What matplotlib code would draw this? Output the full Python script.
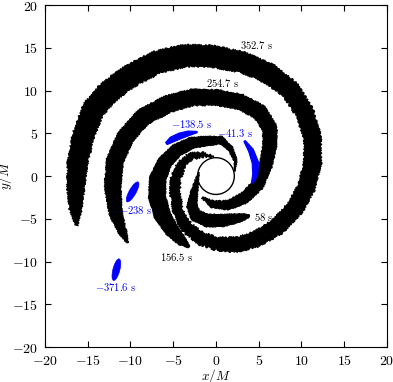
import matplotlib.pyplot as plt
import numpy as np
from matplotlib.patches import Ellipse, Circle, Polygon
from matplotlib.ticker import MultipleLocator, FuncFormatter

plt.rcParams['mathtext.fontset'] = 'cm'
plt.rcParams['font.family'] = 'serif'

# stream snapshots, centre line (x/M, y/M) and thickness, inner end -> tip
arm58_x = [-2.0, -2.3, -2.6, -2.8, -2.4, -1.0, 0.8, 2.4, 3.4, 3.95]
arm58_y = [0.4, -0.8, -2.2, -3.5, -4.6, -5.2, -5.2, -4.95, -4.75, -4.65]
arm58_w = [0.1, 0.5, 0.9, 1.2, 1.4, 1.5, 1.4, 1.1, 0.7, 0.2]

arm156_x = [2.2, 2.3, 1.7, 0.6, -1.0, -2.8, -4.6, -6.0, -6.8, -6.9, -6.3, -5.2, -4.0, -3.1]
arm156_y = [0.6, 1.8, 3.2, 4.2, 4.1, 3.9, 3.0, 1.6, -0.3, -2.4, -4.5, -6.3, -7.6, -8.3]
arm156_w = [0.1, 0.35, 0.6, 0.9, 1.1, 1.3, 1.5, 1.7, 1.9, 2.0, 1.9, 1.6, 1.1, 0.2]

arm254_x = [-1.6, -0.4, 1.4, 3.3, 4.9, 5.8, 6.3, 6.3, 5.1, 2.8, 0.0, -2.8, -5.7,
            -8.5, -10.6, -11.8, -12.1, -11.7, -10.9, -10.3]
arm254_y = [-2.5, -3.3, -3.4, -2.6, -1.0, 1.2, 3.6, 5.6, 7.5, 8.7, 9.2, 9.2, 8.4,
            6.9, 4.6, 1.8, -1.3, -4.5, -6.6, -7.8]
arm254_w = [0.2, 0.8, 1.1, 1.3, 1.4, 1.5, 1.6, 1.7, 1.8, 1.8, 1.8, 1.9, 2.0,
            2.0, 2.0, 2.0, 1.9, 1.5, 0.9, 0.2]

# inner (diffuse) and outer (dense) part of the 352.7 s stream
arm352a_x = [-0.3, -1.6, -3.0, -4.1, -4.7, -4.8, -4.4, -3.4, -1.8, 0.4, 2.6]
arm352a_y = [2.25, 2.5, 2.3, 1.3, -0.3, -2.0, -4.3, -6.0, -7.3, -8.0, -8.0]
arm352a_w = [0.1, 0.5, 0.8, 1.0, 1.1, 1.1, 1.2, 1.3, 1.4, 1.5, 1.6]

arm352b_x = [0.4, 2.6, 4.9, 7.2, 9.2, 10.6, 11.3, 11.3, 10.4, 8.7, 6.2, 3.1, -0.3,
             -3.6, -7.0, -10.2, -12.6, -14.4, -15.5, -16.2, -16.4, -16.4, -16.3]
arm352b_y = [-8.0, -8.0, -7.3, -5.9, -3.8, -1.3, 1.5, 4.5, 7.4, 10.1, 12.0, 13.3, 14.0,
             14.1, 13.3, 11.6, 9.8, 7.7, 4.8, 1.5, -1.5, -3.8, -5.8]
arm352b_w = [1.5, 1.7, 1.8, 1.9, 2.0, 2.0, 2.0, 2.0, 2.1, 2.2, 2.3, 2.4, 2.5,
             2.6, 2.6, 2.6, 2.6, 2.6, 2.5, 2.3, 2.0, 1.5, 0.2]

# star before disruption (blue)
blob138_x = [-5.8, -5.2, -4.2, -3.2, -2.2]
blob138_y = [3.8, 4.25, 4.7, 5.0, 5.15]
blob138_w = [0.3, 0.65, 0.7, 0.55, 0.15]

blob41_x = [3.35, 4.1, 4.6, 4.6, 4.25]
blob41_y = [4.1, 3.0, 1.6, 0.2, -0.8]
blob41_w = [0.2, 0.6, 0.75, 0.6, 0.2]

ell_x = [-11.65, -9.75]
ell_y = [-10.95, -1.85]
ell_len = [2.6, 2.65]
ell_wid = [0.8, 0.8]
ell_ang = [75.4, 60.5]

lab_text = [r'$\mathrm{-371.6\ s}$', r'$\mathrm{-238\ s}$', r'$\mathrm{-138.5\ s}$',
            r'$\mathrm{-41.3\ s}$', r'$\mathrm{352.7\ s}$', r'$\mathrm{254.7\ s}$',
            r'$\mathrm{156.5\ s}$', r'$\mathrm{58\ s}$']
lab_x = [-11.7, -9.4, -2.9, 2.2, 4.7, 0.8, -4.6, 5.6]
lab_y = [-13.0, -4.0, 6.1, 5.0, 15.3, 10.9, -9.5, -4.8]
lab_c = ['b', 'b', 'b', 'b', 'k', 'k', 'k', 'k']

bh_radius = 2.15


def ribbon(x, y, w):
    x = np.asarray(x, float)
    y = np.asarray(y, float)
    w = np.asarray(w, float)
    dx = np.gradient(x)
    dy = np.gradient(y)
    n = np.hypot(dx, dy)
    nx, ny = -dy / n, dx / n
    left = np.column_stack([x + nx * w / 2, y + ny * w / 2])
    right = np.column_stack([x - nx * w / 2, y - ny * w / 2])
    return np.vstack([left, right[::-1]])


fig = plt.figure(figsize=(3.93, 3.82), dpi=100)
ax = fig.add_axes([0.1145, 0.0916, 0.870, 0.895])

for xs, ys, ws, sk in [(arm58_x, arm58_y, arm58_w, 0.4),
                       (arm156_x, arm156_y, arm156_w, 0.4),
                       (arm254_x, arm254_y, arm254_w, 0.6),
                       (arm352a_x, arm352a_y, arm352a_w, 1.2),
                       (arm352b_x, arm352b_y, arm352b_w, 0.9)]:
    p = Polygon(ribbon(xs, ys, ws), closed=True, fc='k', ec='k', lw=0.8)
    p.set_sketch_params(scale=sk, length=1.5, randomness=3)
    ax.add_patch(p)

for xs, ys, ws in [(blob138_x, blob138_y, blob138_w), (blob41_x, blob41_y, blob41_w)]:
    ax.add_patch(Polygon(ribbon(xs, ys, ws), closed=True, fc='b', ec='b', lw=0.8))

for i in range(len(ell_x)):
    ax.add_patch(Ellipse((ell_x[i], ell_y[i]), ell_len[i], ell_wid[i], angle=ell_ang[i],
                         fc='b', ec='b', lw=0.5))

ax.add_patch(Circle((0, 0), bh_radius, fill=False, ec='k', lw=1.0))

for t, x, y, c in zip(lab_text, lab_x, lab_y, lab_c):
    ax.text(x, y, t, color=c, fontsize=7.6, ha='center', va='center')

ax.set_xlim(-20, 20)
ax.set_ylim(-20, 20)
ax.xaxis.set_major_locator(MultipleLocator(5))
ax.yaxis.set_major_locator(MultipleLocator(5))
fmt = FuncFormatter(lambda v, pos: r'$\mathrm{%d}$' % v)
ax.xaxis.set_major_formatter(fmt)
ax.yaxis.set_major_formatter(fmt)
ax.tick_params(direction='in', top=True, right=True, length=4, width=0.8, labelsize=10, pad=5)
ax.set_xlabel(r'$x/M$', fontsize=9.5)
ax.set_ylabel(r'$y/M$', fontsize=9.5)
ax.xaxis.set_label_coords(0.5, -0.058)
ax.yaxis.set_label_coords(-0.09, 0.5)

plt.savefig('out.png', dpi=100)
